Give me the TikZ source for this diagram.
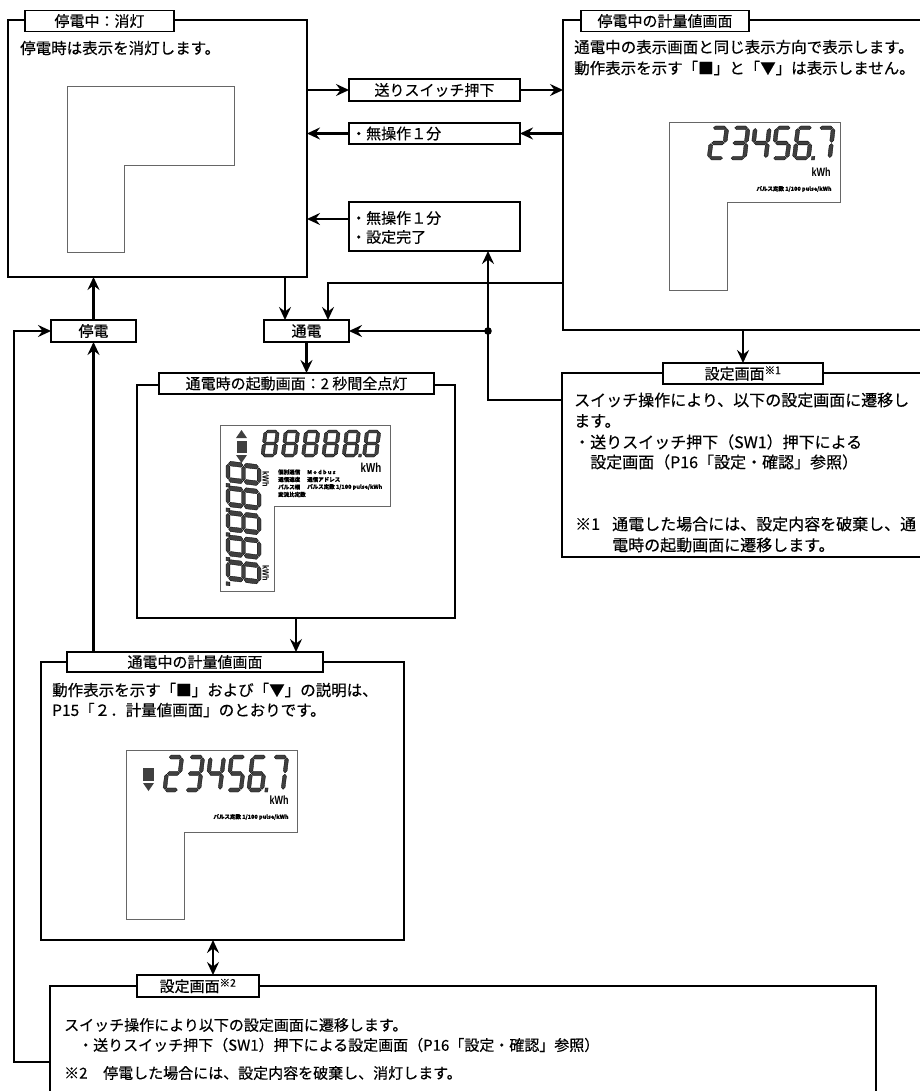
\documentclass[tikz,border=0pt]{standalone}
\usepackage{fontspec}
\setmainfont{Noto Sans CJK JP}[FakeBold=0.4]
\newfontfamily\lsans{Liberation Sans}
\usetikzlibrary{arrows.meta}
% seven segment pieces (frame 10 x 20, y downwards)
\newcommand\sgA{\filldraw[seg] (1.45,1.1)--(2.55,0)--(7.45,0)--(8.55,1.1)--(7.45,2.2)--(2.55,2.2)--cycle;}
\newcommand\sgG{\filldraw[seg] (1.45,10)--(2.55,8.9)--(7.45,8.9)--(8.55,10)--(7.45,11.1)--(2.55,11.1)--cycle;}
\newcommand\sgD{\filldraw[seg] (1.45,18.9)--(2.55,17.8)--(7.45,17.8)--(8.55,18.9)--(7.45,20)--(2.55,20)--cycle;}
\newcommand\sgF{\filldraw[seg] (1.1,1.45)--(2.2,2.55)--(2.2,8.55)--(1.1,9.65)--(0,8.55)--(0,2.55)--cycle;}
\newcommand\sgB{\filldraw[seg] (8.9,1.45)--(10,2.55)--(10,8.55)--(8.9,9.65)--(7.8,8.55)--(7.8,2.55)--cycle;}
\newcommand\sgE{\filldraw[seg] (1.1,10.35)--(2.2,11.45)--(2.2,17.45)--(1.1,18.55)--(0,17.45)--(0,11.45)--cycle;}
\newcommand\sgC{\filldraw[seg] (8.9,10.35)--(10,11.45)--(10,17.45)--(8.9,18.55)--(7.8,17.45)--(7.8,11.45)--cycle;}
\newcommand\sgP{\filldraw[seg] (10.7,17.8) rectangle (12.4,20);}
\newcommand\sgAll{\sgA\sgB\sgC\sgD\sgE\sgF\sgG}
\newcommand\sdig[5]{\begin{scope}[shift={(#1,#2)},x=#3pt,y=-#4pt,xslant=0.12]#5\end{scope}}
\newcommand\dTwo{\sgA\sgB\sgG\sgE\sgD}
\newcommand\dThree{\sgA\sgB\sgG\sgC\sgD}
\newcommand\dFour{\sgF\sgG\sgB\sgC}
\newcommand\dFive{\sgA\sgF\sgG\sgC\sgD}
\newcommand\dSix{\sgA\sgF\sgG\sgE\sgD\sgC\sgP}
\newcommand\dSeven{\sgA\sgB\sgC}
\begin{document}
\begin{tikzpicture}[x=1pt,y=-1pt,line join=miter,
  bx/.style={draw,line width=1.8pt,inner sep=0pt,outer sep=0pt},
  ttl/.style={draw,fill=white,line width=1.8pt,inner sep=0pt,outer sep=0pt,font=\fontsize{15}{18}\selectfont},
  txt/.style={anchor=west,inner sep=0pt,font=\fontsize{15.5}{18}\selectfont},
  txtc/.style={anchor=west,inner sep=0pt,font=\fontsize{16}{18}\selectfont},
  txtd/.style={anchor=west,inner sep=0pt,font=\fontsize{15}{18}\selectfont},
  arr/.style={line width=2.2pt,-{Stealth[length=13pt,width=12pt,inset=4.5pt]}},
  dbl/.style={line width=2.2pt,{Stealth[length=13pt,width=12pt,inset=4.5pt]}-{Stealth[length=13pt,width=12pt,inset=4.5pt]}},
  ln/.style={line width=2.2pt},
  lcd/.style={draw=black!60,line width=0.9pt},
  seg/.style={fill=black!75,draw=black,line width=0.3pt},
  kwh/.style={inner sep=0pt,font=\lsans\bfseries},
  tiny/.style={inner sep=0pt,font=\fontsize{5.5}{6}\selectfont\bfseries}]
\useasboundingbox (0,0) rectangle (919,1091);
\fill[white] (0,0) rectangle (919,1091);

% ---------- big boxes ----------
\node[bx,minimum width=299pt,minimum height=257pt] (A) at (157.5,148.5) {};
\node[bx,minimum width=358pt,minimum height=310pt] (B) at (742,175) {};
\node[bx,minimum width=359pt,minimum height=184pt] (C) at (741.5,465) {};
\node[bx,minimum width=318pt,minimum height=233pt] (F) at (296,501.5) {};
\node[bx,minimum width=363pt,minimum height=278pt] (E) at (222.5,801) {};
\node[bx,minimum width=826pt,minimum height=120pt] (D) at (463,1046) {};

% ---------- titles ----------
\node[ttl,minimum width=149pt,minimum height=21pt] (tA) at (99.5,21) {停電中：消灯};
\node[ttl,minimum width=168pt,minimum height=21pt] (tB) at (665,21) {停電中の計量値画面};
\node[ttl,minimum width=160pt,minimum height=21pt] (tC) at (743,373.5) {設定画面\textsuperscript{※1}};
\node[ttl,minimum width=275pt,minimum height=21pt] (tF) at (296.5,383.5) {通電時の起動画面：2 秒間全点灯};
\node[ttl,minimum width=256pt,minimum height=20pt] (tE) at (195,662) {通電中の計量値画面};
\node[ttl,minimum width=122pt,minimum height=22pt] (tD) at (198,986) {設定画面\textsuperscript{※2}};

% ---------- small label boxes ----------
\node[ttl,minimum width=171pt,minimum height=22pt] (sw) at (434.5,90) {送りスイッチ押下};
\node[ttl,minimum width=171pt,minimum height=21pt] (nm) at (434.5,133.5) {};
\node[txtd] (nmt) at (351,133.5) {・無操作１分};
\node[ttl,minimum width=171pt,minimum height=49pt] (b3) at (434.5,226.5) {};
\node[txtd] (b3a) at (351,218) {・無操作１分};
\node[txtd] (b3b) at (351,237) {・設定完了};
\node[ttl,minimum width=85pt,minimum height=22pt] (tsu) at (306.5,331) {通電};
\node[ttl,minimum width=85pt,minimum height=22pt] (tei) at (93.5,331) {停電};

% ---------- texts ----------
\node[txt] (ta1) at (20,48) {停電時は表示を消灯します。};
\node[txt] (tb1) at (574,47) {通電中の表示画面と同じ表示方向で表示します。};
\node[txt] (tb2) at (574,68) {動作表示を示す「■」と「▼」は表示しません。};
\node[txtc] (tc1) at (574,400) {スイッチ操作により、以下の設定画面に遷移し};
\node[txtc] (tc2) at (574,421) {ます。};
\node[txtc] (tc3) at (574,442) {・送りスイッチ押下（SW1）押下による};
\node[txtc] (tc4) at (590,462) {設定画面（P16「設定・確認」参照）};
\node[txtc] (tc5) at (575,524) {※1};
\node[txtc] (tc6) at (612,524) {通電した場合には、設定内容を破棄し、通};
\node[txtc] (tc7) at (612,545) {電時の起動画面に遷移します。};
\node[txt] (te1) at (52,690) {動作表示を示す「■」および「▼」の説明は、};
\node[txt] (te2) at (52,710) {P15「２．計量値画面」のとおりです。};
\node[txtd] (td1) at (64,1025) {スイッチ操作により以下の設定画面に遷移します。};
\node[txtd] (td2) at (78,1045) {・送りスイッチ押下（SW1）押下による設定画面（P16「設定・確認」参照）};
\node[txtd] (td3) at (64,1073) {※2};
\node[txtd] (td4) at (103,1073) {停電した場合には、設定内容を破棄し、消灯します。};

% ---------- LCD outlines ----------
\draw[lcd] (67,86)--(234,86)--(234,165)--(124,165)--(124,252)--(67,252)--cycle;
\draw[lcd] (669,122)--(840,122)--(840,202)--(727,202)--(727,290)--(669,290)--cycle;
\draw[lcd] (220,425)--(390,425)--(390,506)--(274,506)--(274,591)--(220,591)--cycle;
\draw[lcd] (126,750)--(297,750)--(297,832)--(184,832)--(184,919)--(126,919)--cycle;

% LCD in B
\sdig{711}{126}{1.8}{1.7}{\dTwo}
\sdig{732.3}{126}{1.8}{1.7}{\dThree}
\sdig{753.6}{126}{1.8}{1.7}{\dFour}
\sdig{774.9}{126}{1.8}{1.7}{\dFive}
\sdig{796.2}{126}{1.8}{1.7}{\dSix}
\sdig{817.5}{126}{1.8}{1.7}{\dSeven}
\node[kwh,font=\lsans\bfseries\fontsize{12}{12}\selectfont] (kB) at (821,172) {\scalebox{0.75}[1]{kWh}};
\node[tiny] (pB) at (794,189) {パルス定数 1/100 pulse/kWh};

% LCD in E
\fill[black!75] (143,768) rectangle (154,781);
\fill[black!75] (143,783)--(154,783)--(148.5,791)--cycle;
\sdig{167}{755}{1.7}{1.85}{\dTwo}
\sdig{188}{755}{1.7}{1.85}{\dThree}
\sdig{209}{755}{1.7}{1.85}{\dFour}
\sdig{230}{755}{1.7}{1.85}{\dFive}
\sdig{251}{755}{1.7}{1.85}{\dSix}
\sdig{272}{755}{1.7}{1.85}{\dSeven}
\node[kwh,font=\lsans\bfseries\fontsize{12}{12}\selectfont] (kE) at (279,800) {\scalebox{0.75}[1]{kWh}};
\node[tiny] (pE) at (251,817) {パルス定数 1/100 pulse/kWh};

% LCD in F (all segments)
\fill[black!75] (236,438)--(241.5,430)--(247,438)--cycle;
\fill[black!75] (236.5,440.5) rectangle (246.5,452.5);
\fill[black!75] (236,455)--(247,455)--(241.5,463)--cycle;
\sdig{264}{430}{1.55}{1.35}{\sgAll}
\sdig{284.3}{430}{1.55}{1.35}{\sgAll}
\sdig{304.6}{430}{1.55}{1.35}{\sgAll}
\sdig{324.9}{430}{1.55}{1.35}{\sgAll}
\sdig{345.2}{430}{1.55}{1.35}{\sgAll\sgP}
\sdig{365.5}{430}{1.55}{1.35}{\sgAll}
\foreach \i in {0,...,4}{
  \begin{scope}[shift={(261,465+24.6*\i)},rotate=-90]
    \sdig{0}{0}{2.1}{1.75}{\sgAll\sgP}
  \end{scope}}
\node[kwh,font=\lsans\bfseries\fontsize{13}{13}\selectfont] (kF) at (371,468) {\scalebox{0.75}[1]{kWh}};
\node[kwh,font=\lsans\bfseries\fontsize{9}{9}\selectfont,rotate=-90] (kF1) at (266,479) {\scalebox{0.8}[1]{kWh}};
\node[kwh,font=\lsans\bfseries\fontsize{9}{9}\selectfont,rotate=-90] (kF2) at (266,573) {\scalebox{0.8}[1]{kWh}};
\node[tiny,anchor=west] (f1) at (278,472) {個別通信};
\node[tiny,anchor=west] (f2) at (278,479.5) {通信速度};
\node[tiny,anchor=west] (f3) at (278,487) {パルス幅};
\node[tiny,anchor=west] (f4) at (278,494.5) {変流比定数};
\node[tiny,anchor=west] (g1) at (307,472) {M o d b u s};
\node[tiny,anchor=west] (g2) at (307,479.5) {通信アドレス};
\node[tiny,anchor=west] (g3) at (307,487) {パルス定数 1/100 pulse/kWh};

% ---------- connectors ----------
\coordinate (k6) at (285,0);
\coordinate (k7) at (328,283);
\coordinate (dot) at (488,331);
\coordinate (k8) at (488,400);
\coordinate (k15) at (213,0);
\coordinate (k14a) at (14,1062);
\coordinate (k14b) at (14,331);
\coordinate (p5) at ([yshift=7.5pt]b3.west);

\draw[arr] (A.east |- sw.west) -- (sw.west);
\draw[arr] (sw.east) -- (sw.east -| B.west);
\draw[arr] (nm.east -| B.west) -- (nm.east);
\draw[arr] (nm.west) -- (nm.west -| A.east);
\draw[arr] (p5) -- (p5 -| A.east);
\draw[arr] (A.south -| k6) -- (tsu.north -| k6);
\draw[arr] (k7 -| B.west) -- (k7) -- (k7 |- tsu.north);
\draw[ln] (k8 -| C.west) -- (k8) -- (dot);
\draw[arr] (dot) -- (tsu.east);
\draw[arr] (dot) -- (dot |- b3.south);
\fill (dot) circle (3.8pt);
\draw[arr] (B.south -| tC.north) -- (tC.north);
\draw[arr] (tsu.south) -- (tsu.south |- tF.north);
\draw[arr] (F.south) -- (F.south |- tE.north);
\draw[arr] (tE.north -| tei.south) -- (tei.south);
\draw[arr] (tei.north) -- (tei.north |- A.south);
\draw[arr] (k14a -| D.west) -- (k14a) -- (k14b) -- (tei.west);
\draw[dbl] (E.south -| k15) -- (tD.north -| k15);
\end{tikzpicture}
\end{document}
